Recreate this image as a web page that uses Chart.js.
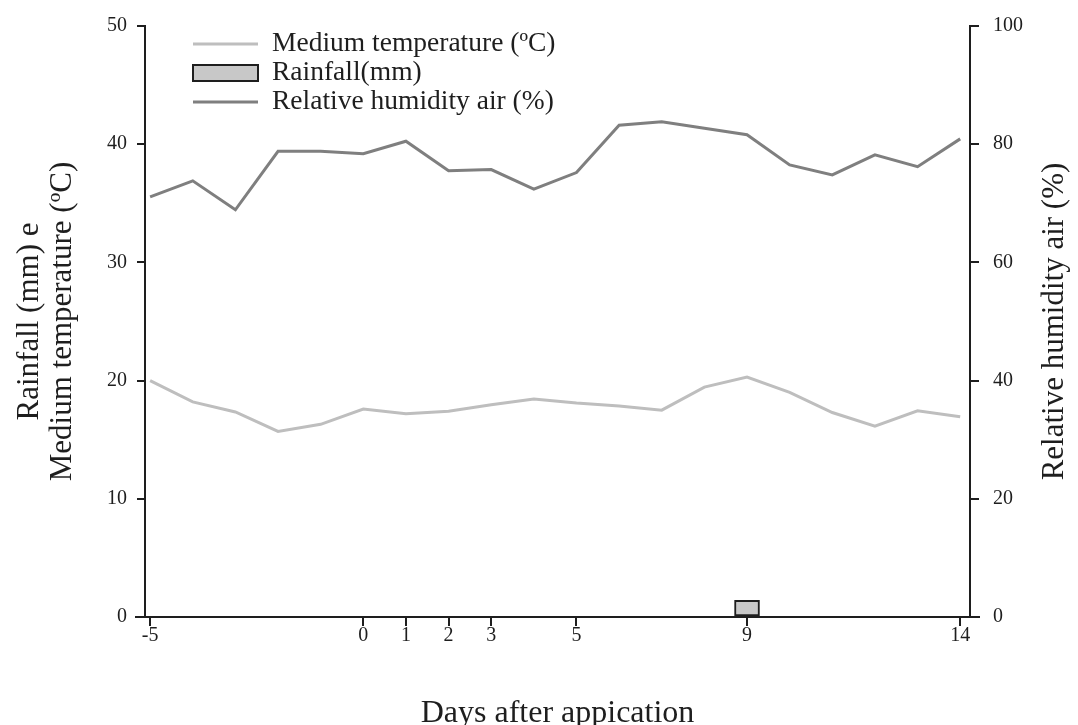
<!DOCTYPE html>
<html><head><meta charset="utf-8">
<script src="https://cdn.jsdelivr.net/npm/chart.js@4"></script>
<style>html,body{margin:0;padding:0;background:#fff}</style>
</head><body>
<canvas id="c" width="1078" height="725" style="width:1078px;height:725px;display:block"></canvas>
<script>
const days = [-5,-4,-3,-2,-1,0,1,2,3,4,5,6,7,8,9,10,11,12,13,14];
const temperature = [20.0,18.2,17.35,15.7,16.3,17.6,17.2,17.4,17.95,18.45,18.1,17.85,17.5,19.45,20.3,19.0,17.3,16.15,17.45,16.95];
const humidity = [71.1,73.8,68.9,78.8,78.8,78.4,80.5,75.5,75.7,72.4,75.2,83.2,83.8,82.7,81.6,76.5,74.8,78.2,76.2,80.9];
const rainDays = [9];
const rainfall = [1.4];
const xTicks = [-5,0,1,2,3,5,9,14];
const leftTicks = [0,10,20,30,40,50];
const rightTicks = [0,20,40,60,80,100];

const FONT = "'Liberation Serif','Times New Roman',serif";
const INK = '#1e1e1e';
const TEMP_COLOR = '#bebebe';
const HUM_COLOR = '#7f7f7f';
const RAIN_FILL = '#c8c8c8';

const legendPlugin = {
  id: 'customLegend',
  afterDraw(chart) {
    const ctx = chart.ctx;
    const area = chart.chartArea;
    ctx.save();
    // x axis line extends slightly past both y axes
    ctx.strokeStyle = INK; ctx.lineWidth = 2;
    ctx.beginPath(); ctx.moveTo(area.left - 10, area.bottom); ctx.lineTo(area.right + 10, area.bottom); ctx.stroke();

    const rows = [
      {label: chart.data.datasets[0].label, type: 'line', color: TEMP_COLOR},
      {label: chart.data.datasets[2].label, type: 'box'},
      {label: chart.data.datasets[1].label, type: 'line', color: HUM_COLOR}
    ];
    const x0 = 193, x1 = 258, tx = 272;
    const ys = [44, 73, 102];
    ctx.font = '27.5px ' + FONT;
    ctx.textBaseline = 'middle';
    rows.forEach((r, i) => {
      const y = ys[i];
      if (r.type === 'line') {
        ctx.strokeStyle = r.color; ctx.lineWidth = 3;
        ctx.beginPath(); ctx.moveTo(x0, y); ctx.lineTo(x1, y); ctx.stroke();
      } else {
        ctx.fillStyle = RAIN_FILL; ctx.fillRect(x0, y - 8, x1 - x0, 16);
        ctx.strokeStyle = INK; ctx.lineWidth = 2; ctx.strokeRect(x0, y - 8, x1 - x0, 16);
      }
      ctx.fillStyle = INK;
      ctx.fillText(r.label, tx, y);
    });
    // right axis title, reading bottom to top
    ctx.translate(1055, (area.top + area.bottom) / 2);
    ctx.rotate(-Math.PI / 2);
    ctx.textAlign = 'center';
    ctx.font = '31px ' + FONT;
    ctx.fillText('Relative humidity air (%)', 0, 0);
    ctx.restore();
  }
};

new Chart(document.getElementById('c'), {
  type: 'bar',
  data: {
    datasets: [
      {type: 'line', label: 'Medium temperature (ºC)', data: days.map((d, i) => ({x: d, y: temperature[i]})),
       borderColor: TEMP_COLOR, borderWidth: 3, pointRadius: 0, tension: 0, yAxisID: 'y', order: 1},
      {type: 'line', label: 'Relative humidity air (%)', data: days.map((d, i) => ({x: d, y: humidity[i]})),
       borderColor: HUM_COLOR, borderWidth: 3, pointRadius: 0, tension: 0, yAxisID: 'y1', order: 0},
      {type: 'bar', label: 'Rainfall(mm)', data: rainDays.map((d, i) => ({x: d, y: rainfall[i]})),
       backgroundColor: RAIN_FILL, borderColor: INK, borderWidth: 2, borderSkipped: false, barThickness: 25, yAxisID: 'y', order: 2}
    ]
  },
  options: {
    responsive: false,
    animation: false,
    layout: {padding: {top: 25, left: 0, right: 0, bottom: 0}},
    plugins: {legend: {display: false}, tooltip: {enabled: false}},
    scales: {
      x: {
        type: 'linear', position: 'bottom', min: -5.12, max: 14.23, offset: false,
        afterBuildTicks: s => { s.ticks = xTicks.map(v => ({value: v})); },
        afterFit: s => { s.height = 108; },
        grid: {offset: false, drawOnChartArea: false, drawTicks: true, tickLength: 9, color: INK, lineWidth: 2},
        border: {display: true, color: INK, width: 2},
        ticks: {font: {family: FONT, size: 20}, color: INK, padding: -2, maxRotation: 0, autoSkip: false},
        title: {display: true, text: 'Days after appication', font: {family: FONT, size: 32}, color: INK, padding: {top: 0, bottom: -8}}
      },
      y: {
        type: 'linear', position: 'left', min: 0, max: 50,
        afterBuildTicks: s => { s.ticks = leftTicks.map(v => ({value: v})); },
        afterFit: s => { s.width = 145; },
        grid: {drawOnChartArea: false, drawTicks: true, tickLength: 8, color: INK, lineWidth: 2},
        border: {display: true, color: INK, width: 2},
        ticks: {font: {family: FONT, size: 20}, color: INK, padding: 10},
        title: {display: true, text: ['Rainfall (mm) e', 'Medium temperature (ºC)'], font: {family: FONT, size: 31, lineHeight: 1.05}, color: INK, padding: {top: 14, bottom: 0}}
      },
      y1: {
        type: 'linear', position: 'right', min: 0, max: 100,
        afterBuildTicks: s => { s.ticks = rightTicks.map(v => ({value: v})); },
        afterFit: s => { s.width = 108; },
        grid: {drawOnChartArea: false, drawTicks: true, tickLength: 9, color: INK, lineWidth: 2},
        border: {display: true, color: INK, width: 2},
        ticks: {font: {family: FONT, size: 20}, color: INK, padding: 14}
      }
    }
  },
  plugins: [legendPlugin]
});
</script>
</body></html>
